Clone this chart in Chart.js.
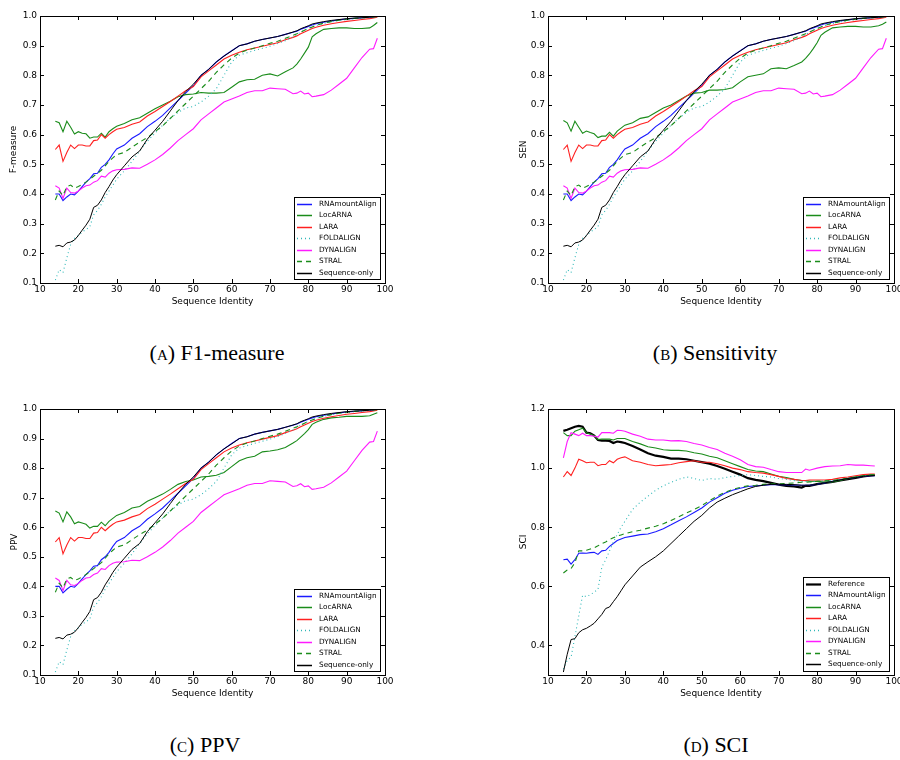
<!DOCTYPE html>
<html><head><meta charset="utf-8">
<script src="https://cdn.jsdelivr.net/npm/chart.js@4/dist/chart.umd.min.js"></script>
<style>
html,body{margin:0;padding:0;background:#fff;width:900px;height:760px;overflow:hidden;position:relative;}
canvas{position:absolute;}
.cap{position:absolute;font-family:'Liberation Serif','DejaVu Serif',serif;font-size:22px;color:#000;white-space:nowrap;transform:translate(-50%,-50%);}
.sc{font-variant:small-caps;}
</style></head><body>
<canvas id="cA" width="450" height="320" style="left:0;top:0"></canvas>
<canvas id="cB" width="470" height="320" style="left:450px;top:0"></canvas>
<canvas id="cC" width="450" height="320" style="left:0;top:395px"></canvas>
<canvas id="cD" width="470" height="320" style="left:450px;top:395px"></canvas>
<div class="cap" style="left:217px;top:353px">(<span class="sc">a</span>) F1-measure</div>
<div class="cap" style="left:715px;top:353px">(<span class="sc">b</span>) Sensitivity</div>
<div class="cap" style="left:205px;top:745px">(<span class="sc">c</span>) PPV</div>
<div class="cap" style="left:716px;top:745px">(<span class="sc">d</span>) SCI</div>
<script>
// ---------- data ----------
const xTicks = [10,20,30,40,50,60,70,80,90,100];
const yTicksPR = [0.1,0.2,0.3,0.4,0.5,0.6,0.7,0.8,0.9,1.0];
const yTicksSCI = [0.4,0.6,0.8,1.0,1.2];
const namesABC = ['RNAmountAlign','LocARNA','LARA','FOLDALIGN','DYNALIGN','STRAL','Sequence-only'];
const namesD = ['Reference','RNAmountAlign','LocARNA','LARA','FOLDALIGN','DYNALIGN','STRAL','Sequence-only'];
const panelTitles = ['F-measure','SEN','PPV','SCI'];
const xLabel = 'Sequence Identity';

const xsABC = [14,15,16,17,18,19,20,21,22,23,24,25,26,27,28,29,30,
  32,34,36,38,40,42,44,46,48,50,52,54,56,58,60,62,64,66,68,70,72,74,
  76,77,78,79,80,81,82, 84,86,88,90,92,94,96,97,98];

const rnaABC = [.40,.40,.378,.39,.40,.397,.41,.425,.44,.452,.468,.47,.49,.50,.515,.535,.552,
  .565,.588,.603,.627,.645,.665,.69,.715,.74,.765,.80,.82,.845,.865,.883,.9,.906,.915,.921,.926,.931,.938,
  .945,.949,.955,.96,.965,.97,.974, .979,.983,.987,.99,.992,.994,.996,.997,.999];
const locA = [.645,.64,.61,.645,.625,.602,.61,.605,.603,.588,.592,.592,.605,.592,.61,.62,.628,
  .638,.65,.657,.672,.687,.70,.713,.728,.735,.737,.742,.74,.74,.742,.76,.778,.785,.787,.80,.805,.798,.812,
  .825,.838,.855,.875,.895,.93,.94, .955,.958,.96,.96,.958,.958,.96,.968,.978];
const locB = [.648,.64,.612,.645,.625,.605,.612,.607,.603,.59,.595,.595,.608,.595,.612,.622,.632,
  .64,.655,.66,.675,.69,.70,.715,.73,.74,.742,.75,.75,.752,.758,.778,.795,.80,.805,.822,.825,.822,.833,
  .845,.857,.872,.89,.91,.935,.945, .96,.963,.965,.965,.963,.963,.967,.972,.98];
const locC = [.655,.648,.618,.652,.635,.612,.618,.614,.61,.597,.603,.603,.617,.605,.62,.63,.64,
  .65,.665,.67,.688,.70,.712,.728,.745,.755,.76,.77,.772,.776,.785,.805,.825,.835,.84,.855,.858,.862,.87,
  .885,.893,.905,.917,.93,.948,.955, .965,.97,.972,.975,.975,.975,.977,.982,.987];
const laraABC = [.55,.565,.51,.54,.565,.553,.565,.565,.562,.562,.58,.582,.60,.588,.60,.61,.618,
  .624,.635,.643,.663,.678,.695,.712,.73,.748,.762,.795,.815,.835,.855,.868,.878,.886,.892,.898,.904,.91,.92,
  .928,.933,.94,.946,.952,.958,.962, .969,.974,.978,.982,.985,.988,.991,.993,.996];
const foldABC = [.11,.145,.135,.185,.23,.25,.26,.272,.28,.29,.33,.345,.365,.39,.41,.43,.45,
  .478,.51,.545,.578,.605,.632,.655,.675,.69,.695,.71,.73,.755,.80,.845,.868,.876,.884,.891,.898,.907,.917,
  .93,.937,.946,.952,.958,.963,.968, .975,.98,.985,.988,.991,.993,.995,.996,.998];
const dynABC = [.428,.42,.385,.42,.405,.403,.41,.42,.428,.43,.44,.445,.46,.457,.47,.478,.482,
  .483,.488,.487,.50,.515,.533,.555,.58,.60,.62,.65,.67,.69,.71,.72,.73,.742,.748,.748,.757,.755,.753,
  .738,.74,.747,.737,.74,.728,.73, .735,.75,.77,.79,.825,.86,.888,.89,.925];
const stralABC = [.38,.41,.395,.425,.43,.42,.425,.432,.44,.45,.46,.47,.48,.495,.51,.522,.533,
  .54,.558,.575,.59,.61,.63,.655,.68,.705,.73,.755,.78,.81,.835,.858,.875,.885,.892,.90,.908,.915,.925,
  .935,.94,.946,.952,.958,.963,.968, .976,.981,.986,.989,.992,.994,.996,.997,.998];
const seqABC = [.224,.227,.222,.235,.238,.245,.26,.278,.295,.315,.355,.362,.38,.405,.425,.447,.465,
  .495,.525,.545,.585,.615,.645,.68,.715,.745,.77,.80,.82,.845,.865,.882,.9,.906,.915,.921,.926,.931,.938,
  .946,.95,.957,.962,.967,.973,.976, .981,.985,.988,.991,.993,.994,.996,.997,.999];

const xsD = [14,15,16,17,18,19,20,21,22,23,24,25,26,27,28,29,30,
  32,34,36,38,40,42,44,46,48,50,52,54,56,58,60,62,64,66,68,70,72,74,
  76,77,78, 80,82,84,86,88,90,92,94,95];
const refD = [1.126,1.13,1.135,1.14,1.143,1.14,1.12,1.118,1.11,1.095,1.093,1.093,1.092,1.085,1.09,1.088,1.085,
  1.075,1.063,1.05,1.042,1.038,1.032,1.032,1.03,1.025,1.02,1.015,1.007,.998,.988,.978,.966,.96,.956,.95,.944,.94,.938,
  .934,.94,.94, .946,.95,.953,.958,.963,.967,.972,.975,.976];
const rnaD = [.69,.692,.675,.69,.712,.713,.712,.714,.715,.708,.72,.722,.735,.745,.755,.76,.765,
  .77,.775,.777,.785,.795,.808,.822,.835,.85,.865,.885,.90,.915,.925,.932,.938,.94,.942,.944,.944,.944,.943,
  .942,.942,.942, .945,.95,.955,.96,.965,.968,.972,.974,.974];
const locD = [1.12,1.11,1.11,1.125,1.13,1.135,1.12,1.115,1.11,1.097,1.098,1.098,1.098,1.095,1.10,1.10,1.10,
  1.09,1.082,1.072,1.068,1.062,1.06,1.06,1.058,1.052,1.048,1.04,1.035,1.025,1.015,1.005,.995,.99,.988,.98,.972,.968,.962,
  .958,.957,.956, .955,.953,.953,.958,.965,.97,.975,.978,.978];
const laraD = [.97,.988,.975,1.0,1.03,1.025,1.018,1.02,1.02,1.008,1.012,1.012,1.025,1.018,1.03,1.035,1.038,
  1.025,1.02,1.012,1.008,1.01,1.012,1.018,1.022,1.025,1.02,1.02,1.015,1.008,1.0,.995,.988,.985,.983,.978,.972,.965,.962,
  .958,.958,.96, .96,.96,.962,.967,.97,.974,.978,.98,.98];
const foldD = [.32,.35,.36,.43,.50,.57,.565,.572,.58,.59,.665,.69,.72,.75,.775,.80,.82,
  .86,.885,.905,.925,.94,.952,.962,.97,.965,.958,.965,.962,.968,.972,.975,.978,.975,.972,.97,.965,.962,.958,
  .955,.955,.955, .955,.958,.958,.962,.966,.97,.974,.976,.977];
const dynD = [1.035,1.09,1.12,1.115,1.11,1.118,1.11,1.11,1.108,1.105,1.12,1.12,1.12,1.118,1.128,1.127,1.125,
  1.115,1.108,1.098,1.095,1.095,1.092,1.093,1.09,1.083,1.078,1.07,1.063,1.05,1.04,1.028,1.012,1.005,1.003,.995,.988,.985,.985,
  .985,.997,.993, 1.0,1.005,1.007,1.008,1.012,1.01,1.01,1.008,1.007];
const stralD = [.645,.655,.66,.68,.72,.72,.722,.726,.73,.737,.745,.75,.758,.764,.77,.774,.778,
  .785,.79,.797,.803,.812,.823,.835,.848,.86,.873,.89,.905,.918,.928,.935,.94,.942,.945,.947,.947,.948,.95,
  .952,.952,.953, .955,.957,.958,.962,.966,.97,.974,.977,.978];
const seqD = [.31,.37,.42,.423,.443,.453,.458,.466,.475,.49,.505,.525,.53,.548,.565,.585,.605,
  .635,.665,.683,.70,.72,.745,.77,.795,.82,.84,.865,.885,.898,.91,.92,.93,.938,.942,.945,.945,.945,.944,
  .942,.942,.942, .945,.95,.955,.96,.965,.968,.972,.974,.975];

// ---------- styles ----------
const STY = {
  'Reference':     {c:'#000000', w:2.2, d:[]},
  'RNAmountAlign': {c:'#1a1aff', w:1.1, d:[]},
  'LocARNA':       {c:'#1a8c1a', w:1.1, d:[]},
  'LARA':          {c:'#ff2020', w:1.1, d:[]},
  'FOLDALIGN':     {c:'#30b8b8', w:1.1, d:[1,3]},
  'DYNALIGN':      {c:'#ff1aff', w:1.1, d:[]},
  'STRAL':         {c:'#1a8c1a', w:1.1, d:[5,4]},
  'Sequence-only': {c:'#000000', w:1, d:[]}
};
const FONT = "'DejaVu Sans', sans-serif";

const framePlugin = {
  id: 'frameLegend',
  afterDatasetsDraw(chart) {
    const {ctx, chartArea: a} = chart;
    const xs = chart.scales.x, ys = chart.scales.y;
    ctx.save();
    ctx.strokeStyle = '#000'; ctx.lineWidth = 1; ctx.setLineDash([]);
    ctx.beginPath();
    xs.ticks.forEach(t => {
      const p = Math.round(xs.getPixelForValue(t.value)) + 0.5;
      ctx.moveTo(p, a.bottom); ctx.lineTo(p, a.bottom - 4);
      ctx.moveTo(p, a.top); ctx.lineTo(p, a.top + 4);
    });
    ys.ticks.forEach(t => {
      const p = Math.round(ys.getPixelForValue(t.value)) + 0.5;
      ctx.moveTo(a.left, p); ctx.lineTo(a.left + 4, p);
      ctx.moveTo(a.right, p); ctx.lineTo(a.right - 4, p);
    });
    ctx.stroke();
    ctx.strokeRect(Math.round(a.left) + 0.5, Math.round(a.top) + 0.5, Math.round(a.right - a.left), Math.round(a.bottom - a.top));
    // legend
    const dss = chart.data.datasets;
    ctx.font = "7.3px " + FONT;
    let tw = 0;
    dss.forEach(d => { tw = Math.max(tw, ctx.measureText(d.label).width); });
    const bw = Math.round(25 + tw + 3), sp = 11.5, pad = 6.5;
    const bh = Math.round(pad * 2 + sp * (dss.length - 1));
    const bx = Math.round(a.right - 5 - bw), by = Math.round(a.bottom - 4 - bh);
    ctx.fillStyle = '#fff';
    ctx.fillRect(bx, by, bw, bh);
    ctx.strokeRect(bx + 0.5, by + 0.5, bw, bh);
    dss.forEach((d, i) => {
      const yy = Math.round(by + pad + i * sp) + 0.5;
      ctx.save();
      ctx.strokeStyle = d.borderColor;
      ctx.lineWidth = Math.max(1.5, d.borderWidth);
      ctx.setLineDash(d.borderDash && d.borderDash.length ? d.borderDash : []);
      ctx.beginPath(); ctx.moveTo(bx + 3, yy); ctx.lineTo(bx + 18, yy); ctx.stroke();
      ctx.restore();
      ctx.fillStyle = '#000'; ctx.textBaseline = 'middle'; ctx.textAlign = 'left';
      ctx.fillText(d.label, bx + 25, yy);
    });
    ctx.restore();
  }
};

function makeChart(id, names, xs, ys, yTicks, yMin, yMax, yTitle, L) {
  const n = names.length;
  const datasets = names.map((nm, i) => ({
    label: nm,
    data: xs.map((xv, k) => ({x: xv, y: ys[i][k]})),
    borderColor: STY[nm].c, backgroundColor: STY[nm].c,
    borderWidth: STY[nm].w, borderDash: STY[nm].d,
    pointRadius: 0, tension: 0, fill: false, order: n - i
  }));
  const lh = 9 * 1.2;
  return new Chart(document.getElementById(id), {
    type: 'line',
    data: {datasets},
    options: {
      responsive: false, animation: false, devicePixelRatio: 1,
      layout: {padding: {left: 0, top: L.t, right: L.W - L.r, bottom: 0}},
      plugins: {legend: {display: false}, tooltip: {enabled: false}},
      scales: {
        x: {
          type: 'linear', min: 10, max: 100,
          afterBuildTicks: s => { s.ticks = xTicks.map(v => ({value: v})); },
          afterFit: s => { s.height = L.H - L.b; },
          grid: {display: false, drawTicks: false}, border: {display: false},
          ticks: {color: '#000', font: {family: FONT, size: 9}, padding: 1, autoSkip: false, maxRotation: 0,
                  callback: v => String(v)},
          title: {display: true, text: xLabel, color: '#000', font: {family: FONT, size: 9},
                  padding: {top: 0, bottom: (L.H - L.b) - 18.7 - lh / 2}}
        },
        y: {
          type: 'linear', min: yMin, max: yMax,
          afterBuildTicks: s => { s.ticks = yTicks.map(v => ({value: v})); },
          afterFit: s => { s.width = L.l; },
          grid: {display: false, drawTicks: false}, border: {display: false},
          ticks: {color: '#000', font: {family: FONT, size: 9}, padding: 3, autoSkip: false,
                  callback: v => Number(v).toFixed(1)},
          title: {display: true, text: yTitle, color: '#000', font: {family: FONT, size: 9},
                  padding: {top: L.yt - lh / 2, bottom: 0}}
        }
      }
    },
    plugins: [framePlugin]
  });
}

const seriesABC = (loc) => [rnaABC, loc, laraABC, foldABC, dynABC, stralABC, seqABC];
makeChart('cA', namesABC, xsABC, seriesABC(locA), yTicksPR, 0.1, 1.0, panelTitles[0],
  {W: 450, H: 320, l: 40, r: 385, t: 16, b: 283, yt: 13.5});
makeChart('cB', namesABC, xsABC, seriesABC(locB), yTicksPR, 0.1, 1.0, panelTitles[1],
  {W: 470, H: 320, l: 98, r: 444, t: 16, b: 283, yt: 74});
makeChart('cC', namesABC, xsABC, seriesABC(locC), yTicksPR, 0.1, 1.0, panelTitles[2],
  {W: 450, H: 320, l: 40, r: 385, t: 14, b: 280, yt: 15});
makeChart('cD', namesD, xsD, [refD, rnaD, locD, laraD, foldD, dynD, stralD, seqD], yTicksSCI, 0.3, 1.2, panelTitles[3],
  {W: 470, H: 320, l: 98, r: 444, t: 14, b: 280, yt: 74});
</script>
</body></html>
